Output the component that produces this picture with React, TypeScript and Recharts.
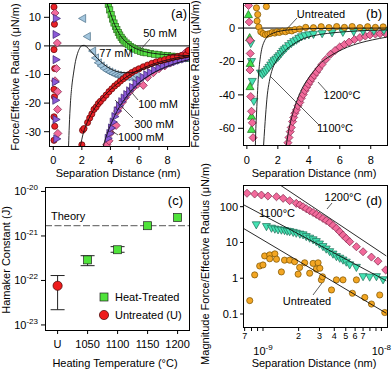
import React from 'react';
import { ScatterChart, Scatter, XAxis, YAxis, ReferenceLine, ErrorBar } from 'recharts';

const FONT = '"Liberation Sans", Arial, Helvetica, sans-serif';

// ---------- (a) force vs separation, salt series (nm, uN/m)
const a50 = [[3.85,14.5],[3.95,12.6],[4.05,10.9],[4.15,9.4],[4.25,8.0],[4.35,6.8],[4.45,5.7],[4.55,4.7],[4.65,3.8],[4.75,3.0],[4.85,2.3],[4.95,1.7],[5.1,1.0],[5.25,0.4],[5.4,-0.2],[5.55,-0.7],[5.7,-1.1],[5.9,-1.5],[6.1,-1.9],[6.3,-2.2],[6.5,-2.4],[6.8,-2.7],[7.1,-2.9],[7.4,-3.1],[7.7,-3.3],[8.0,-3.4],[8.3,-3.6],[8.6,-3.8],[8.9,-4.0],[9.2,-4.2],[9.45,-4.4]];
const a50Fit = [[3.75,15],[3.9,12.8],[4.1,10],[4.3,7.4],[4.5,5.3],[4.7,3.6],[4.9,2.3],[5.2,0.9],[5.5,-0.2],[5.9,-1.2],[6.4,-2.0],[7.0,-2.6],[7.8,-3.0],[8.6,-3.2],[9.5,-3.4]];
const a77 = [[2.05,9.6],[2.38,3.3],[2.75,-1.8],[2.95,-4.2],[3.15,-5.9],[3.35,-7.0],[3.55,-7.9],[3.75,-8.6],[3.95,-9.1],[4.15,-9.6],[4.35,-10.0],[4.55,-10.3],[4.75,-10.5],[4.95,-10.7],[5.15,-10.8],[5.35,-10.8],[5.55,-10.7],[5.8,-10.3],[9.2,-3.4],[9.45,-4.6]];
const a77Fit = [[1.07,-35],[1.12,-28],[1.2,-20],[1.3,-14],[1.42,-9.5],[1.55,-5.5],[1.7,-2.6],[1.85,-0.8],[2.0,0.1],[2.15,0.2],[2.35,-0.4],[2.6,-1.7],[2.9,-3.4],[3.3,-5.4],[3.8,-7.4],[4.3,-8.7],[4.8,-9.3],[5.3,-9.4],[5.8,-9.0],[6.4,-8.0],[7.0,-6.9],[7.8,-5.7],[8.6,-4.7],[9.5,-3.9]];
const a100 = [[2.0,-34.6],[2.05,-29.5],[2.15,-28.9],[2.4,-26.8],[2.55,-25.2],[2.7,-23.8],[2.85,-22.2],[3.0,-21.4],[3.15,-20.2],[3.3,-19.4],[3.5,-18.3],[3.7,-17.2],[3.9,-16.0],[4.1,-15.0],[4.3,-14.0],[4.5,-13.2],[4.7,-12.3],[4.9,-11.5],[5.1,-10.7],[5.3,-10.0],[5.5,-9.3],[5.75,-8.6],[6.0,-8.0],[6.3,-7.3],[6.6,-6.7],[6.9,-6.1],[7.2,-5.6],[7.5,-5.2],[7.8,-4.8],[8.1,-4.4],[8.4,-4.0],[8.7,-3.7],[9.0,-3.4],[9.3,-3.1],[9.45,-1.6]];
const a100Fit = [[1.9,-35],[2.1,-30.5],[2.4,-26.5],[2.8,-22.6],[3.2,-19.6],[3.7,-16.8],[4.2,-14.4],[4.8,-12.0],[5.4,-10.0],[6.0,-8.4],[6.8,-6.7],[7.6,-5.4],[8.5,-4.3],[9.5,-3.4]];
const a300 = [[3.85,-32.3],[3.97,-30.6],[4.08,-28.7],[4.2,-26.6],[4.32,-24.7],[4.48,-22.7],[4.64,-20.9],[4.8,-19.5],[4.97,-18.2],[5.15,-17.0],[5.35,-15.7],[5.55,-14.5],[5.8,-13.2],[6.05,-12.0],[6.3,-11.0],[6.55,-10.1],[6.8,-9.3],[7.1,-8.4],[7.4,-7.7],[7.7,-7.1],[8.0,-6.5],[8.3,-6.0],[8.6,-5.5],[8.9,-5.0],[9.2,-4.6],[9.45,-4.2]];
const a1000 = [[3.75,-34.5],[3.9,-33.2],[4.02,-30.4],[4.12,-28.4],[4.4,-27.8],[4.5,-22.8],[4.62,-21.4],[4.85,-19.6],[5.05,-18.0],[5.3,-16.3],[5.6,-14.6],[5.9,-13.4],[6.3,-13.8],[6.6,-11.0],[7.0,-9.4],[7.4,-8.0],[7.8,-7.0],[8.2,-6.0],[8.6,-4.8],[8.9,-3.6],[9.2,-2.6],[9.45,-1.9]];
const a300Fit = [[3.5,-35],[3.75,-31],[4.0,-27.8],[4.3,-24.4],[4.6,-21.6],[5.0,-18.6],[5.5,-15.4],[6.0,-12.9],[6.6,-10.7],[7.2,-8.9],[7.8,-7.5],[8.5,-6.2],[9.5,-4.8]];
// contact region points (near zero separation)
const aColRed = [[0.05,13.6],[0.08,7.6],[0.05,-1.3],[0.1,-7.9],[0.05,-15.2],[0.08,-17.8],[0.05,-24.8],[0.1,-28.1],[0.05,-33.0]];
const aColPink = [[0.12,11.5],[0.28,1.0],[0.22,-7.9],[0.12,-12.2],[0.3,-16.0],[0.3,-22.2],[0.32,-30.6]];
const aColPurple = [[0.22,9.6],[0.2,4.0],[0.2,-4.8],[0.15,-12.6],[0.18,-19.0],[0.2,-25.7],[0.25,-32.5]];

// ---------- (b) heat treatment series
const bUntreated = [[0.62,12.1],[1.26,12.9],[0.7,8.1],[0.66,4.2],[0.77,0.6],[0.9,-2.2],[1.05,-3.3],[1.2,-4.0],[1.35,-3.6],[1.5,-3.3],[1.65,-2.6],[1.8,-3.0],[1.95,-2.2],[2.1,-2.6],[2.3,-1.9],[2.5,-2.2],[2.7,-1.4],[2.9,-1.7],[3.1,-0.9],[3.4,-0.6],[3.8,0.4],[4.3,0.2],[4.8,0.8],[5.3,0.3],[5.8,0.9],[6.3,0.4],[6.8,0.9],[7.3,0.3],[7.8,0.8],[8.3,0.4],[8.8,0.7]];
const bUntreatedFit = [[0.55,-70],[0.58,-60],[0.62,-52],[0.67,-42],[0.72,-33],[0.78,-25],[0.85,-19],[0.95,-13],[1.1,-8.5],[1.3,-5.4],[1.6,-3.4],[2.0,-2.1],[2.6,-1.2],[3.4,-0.6],[4.5,-0.3],[6,-0.1],[9.05,0]];
const b1100 = [[0.88,-27],[1.0,-28],[1.12,-27],[1.22,-26],[1.33,-24.8],[1.43,-23.6],[1.54,-22.2],[1.65,-20.8],[1.76,-19.6],[1.88,-18.7],[2.0,-17.6],[2.1,-16.6],[2.21,-15.3],[2.32,-14.0],[2.43,-13.0],[2.54,-12.0],[2.7,-10.6],[2.87,-9.3],[3.03,-8.2],[3.2,-7.3],[3.36,-6.2],[3.53,-5.3],[3.75,-4.6],[4.0,-4.1],[4.3,-3.8],[4.86,-3.4],[5.5,-2.9],[6.2,-2.6],[6.9,-2.3],[7.5,-2.0],[8.2,-1.8],[8.85,-1.5]];
const b1100Fit = [[1.08,-70],[1.15,-60],[1.21,-52],[1.32,-40],[1.45,-32],[1.6,-26],[1.88,-20],[2.3,-15],[2.87,-10.5],[3.5,-7],[4.4,-4.4],[5.5,-2.9],[7,-1.8],[9.05,-1.1]];
const b1200 = [[2.65,-68.6],[2.72,-65.5],[2.8,-62],[2.87,-59.5],[2.95,-56],[3.02,-53.5],[3.1,-51],[3.2,-49],[3.3,-46.5],[3.42,-44.5],[3.52,-42],[3.64,-39.8],[3.75,-37.5],[3.86,-35.6],[3.98,-33.6],[4.1,-31.8],[4.22,-30],[4.35,-28.3],[4.5,-26.4],[4.65,-24.4],[4.85,-21.8],[5.1,-18.8],[5.4,-15.7],[5.7,-13.4],[6.0,-11.3],[6.3,-9.8],[6.6,-8.4],[6.95,-6.9],[7.3,-5.7],[7.65,-4.8],[7.95,-4.1],[8.3,-3.6],[8.6,-3.4],[8.95,-3.2]];
const b1200Fit = [[2.55,-70],[2.65,-64],[2.8,-57],[3.0,-50],[3.25,-43],[3.55,-36.5],[3.9,-31],[4.3,-26],[4.7,-21.5],[5.2,-17.8],[5.8,-14.5],[6.5,-11.4],[7.3,-8.9],[8.1,-7.1],[9.05,-5.4]];
const bColPink = [[0.11,13.5],[0.15,3.6],[0.2,-7.3],[0.22,-15.2],[0.2,-25.1],[0.25,-41],[0.3,-49.8],[0.35,-56.7],[0.4,-65.6]];
const bColGreen = [[0.1,8.1],[0.18,-5.7],[0.22,-21.1],[0.2,-35],[0.3,-52.7],[0.3,-60.6]];
const bColTeal = [[0.25,-9.3],[0.3,-20.1],[0.35,-32],[0.45,-43.9]];

// ---------- (c) Hamaker constants (J)
const tempSlots = [1000, 1050, 1100, 1150, 1200];
const tempLabels = ['U', '1050', '1100', '1150', '1200'];
const heatTemps = [1050, 1100, 1150, 1200];
const heatA = [2.9e-22, 4.9e-22, 1.7e-21, 2.6e-21];
const heatLo = [2.15e-22, 4.3e-22, 1.7e-21, 2.6e-21];
const heatHi = [3.6e-22, 5.75e-22, 1.7e-21, 2.6e-21];
const untreatedSlot = 1000;
const untreatedA = 7.6e-23;
const untreatedLo = 2.2e-23;
const untreatedHi = 1.29e-22;
const theoryA = 1.7e-21;

// ---------- (d) log-log magnitudes (m, uN/m)
const d1200 = [[7.33e-10,237],[8.5e-10,226],[9.7e-10,212],[1.1e-9,199],[1.3e-9,190],[1.48e-9,171],[1.68e-9,147],[1.91e-9,124],[2.05e-9,112],[2.18e-9,100],[2.32e-9,88],[2.48e-9,77],[2.65e-9,69],[2.82e-9,61],[3.0e-9,54],[3.21e-9,47],[3.42e-9,41],[3.66e-9,36],[3.9e-9,30],[4.17e-9,25],[4.45e-9,20],[4.74e-9,16],[5.05e-9,13],[5.4e-9,10.5],[6.15e-9,7.6],[7.0e-9,5.5],[8.24e-9,3.9],[9.35e-9,3.0],[1.087e-8,1.7]];
const d1200Fit = [[1.4e-9,400],[1.1e-8,4.2]];
const d1100 = [[8.78e-10,31],[1.07e-9,27.6],[1.18e-9,24.9],[1.26e-9,23.5],[1.34e-9,22.4],[1.43e-9,22],[1.52e-9,21.4],[1.6e-9,20.5],[1.68e-9,20],[1.8e-9,19],[1.91e-9,18],[2.05e-9,17],[2.18e-9,16.2],[2.32e-9,14.5],[2.48e-9,13.1],[2.65e-9,11.8],[2.82e-9,10.5],[3.0e-9,9],[3.21e-9,7.6],[3.42e-9,6.5],[3.66e-9,5.5],[3.9e-9,4.7],[4.17e-9,4.0],[4.45e-9,3.6],[4.74e-9,3.2],[5.05e-9,2.8],[5.4e-9,2.35],[6.15e-9,2.0],[7.0e-9,1.1],[7.96e-9,1.07],[9.08e-9,1.1],[1.033e-8,0.9]];
const d1100Fit = [[6.8e-10,115],[1.1e-8,0.85]];
const dUntreated = [[7.73e-10,0.237],[8.51e-10,1.24],[9.38e-10,2.2],[1.0e-9,2.35],[1.033e-9,4.2],[1.14e-9,4.5],[1.14e-9,3.5],[1.26e-9,4.8],[1.3e-9,3.4],[1.43e-9,1.5],[1.52e-9,3.2],[1.68e-9,3.2],[1.85e-9,2.9],[1.98e-9,1.3],[2.04e-9,2.0],[2.25e-9,2.7],[2.48e-9,1.38],[2.65e-9,2.6],[2.82e-9,1.8],[2.92e-9,2.7],[3.02e-9,1.9],[3.11e-9,0.9],[3.18e-9,1.1],[3.79e-9,0.47],[4.17e-9,0.9],[4.74e-9,0.9],[5.69e-9,0.38],[6.15e-9,0.9],[7.24e-9,0.29],[8.24e-9,0.19],[9.68e-9,0.34],[1.067e-8,0.11]];
const dUntreatedFit = [[6.8e-10,25],[1.1e-8,0.105]];
const dTicksX = [7e-10, 8e-10, 9e-10, 1e-9, 2e-9, 3e-9, 4e-9, 5e-9, 6e-9, 7e-9, 8e-9, 9e-9, 1e-8];

// ---------- colours
const C = {
  green: ['#55e045', '#2d6e1e'],
  red: ['#ea2228', '#5e0000'],
  blue: ['#a3c6de', '#4b6e86'],
  purple: ['#8c5ad8', '#3a2370'],
  pink: ['#f26a9b', '#7d2447'],
  orange: ['#f3a623', '#7a5200'],
  teal: ['#45e3b4', '#1d6b55'],
  lime: ['#40e04a', '#1a6b1a'],
};

const pts = (arr: number[][]) => arr.map(([x, y]) => ({ x, y }));

function marker(kind: string, col: string[], r = 3.1) {
  const [fill, stroke] = col;
  return (p: any) => {
    const { cx, cy } = p;
    if (cx == null || cy == null) return <g />;
    const sp = { fill, stroke, strokeWidth: 0.7 };
    if (kind === 'circle') return <circle cx={cx} cy={cy} r={r} {...sp} />;
    if (kind === 'square') return <rect x={cx - r} y={cy - r} width={2 * r} height={2 * r} {...sp} />;
    let q: number[][] = [];
    const k = r * 1.3;
    if (kind === 'diamond') q = [[0, -k], [k, 0], [0, k], [-k, 0]];
    if (kind === 'left') q = [[-k, 0], [r, -k], [r, k]];
    if (kind === 'right') q = [[k, 0], [-r, -k], [-r, k]];
    if (kind === 'down') q = [[-k, -r], [k, -r], [0, k]];
    if (kind === 'up') q = [[-k, r], [k, r], [0, -k]];
    return <polygon points={q.map(([dx, dy]) => `${cx + dx},${cy + dy}`).join(' ')} {...sp} />;
  };
}
const noDot = () => <g />;

const tickFont = { fill: '#000', fontSize: 11 };
const tl = { stroke: '#000' };

function fit(data: number[][], key: string) {
  return (
    <Scatter key={key} data={pts(data)} line={{ stroke: '#111', strokeWidth: 0.9 }} lineType="joint"
      lineJointType="monotoneX" shape={noDot} isAnimationActive={false} />
  );
}
function dots(data: number[][], kind: string, col: string[], key: string, r?: number) {
  return <Scatter key={key} data={pts(data)} shape={marker(kind, col, r)} isAnimationActive={false} />;
}

const DecadeTickY = (props: any) => {
  const { x, y, payload } = props;
  const e = Math.round(Math.log10(payload.value));
  return (
    <text x={x} y={y + 4} textAnchor="end" fill="#000" fontSize={11}>
      <tspan>10</tspan>
      <tspan dy={-5} fontSize={8}>{e}</tspan>
    </text>
  );
};

const LogTickX = (props: any) => {
  const { x, y, payload } = props;
  const v = payload.value;
  const lg = Math.log10(v);
  const dec = Math.floor(lg + 1e-9);
  const d = Math.round(v / Math.pow(10, dec));
  if (d === 1) {
    return (
      <text x={x} y={y + 22} textAnchor="middle" fill="#000" fontSize={11}>
        <tspan>10</tspan>
        <tspan dy={-5} fontSize={8}>{dec}</tspan>
      </text>
    );
  }
  if (d === 8 || d === 9) return <g />;
  return <text x={x} y={y + 6} textAnchor="middle" fill="#000" fontSize={9}>{d}</text>;
};

function PanelA() {
  return (
    <ScatterChart width={195} height={180} margin={{ top: 3, right: 6, bottom: 0, left: 0 }}>
      <XAxis type="number" dataKey="x" domain={[-0.3, 9.5]} ticks={[0, 2, 4, 6, 8]} interval={0} allowDataOverflow
        height={34} tickSize={4} tickMargin={6} axisLine={false} tickLine={tl} tick={tickFont} />
      <YAxis type="number" dataKey="y" domain={[-35, 15]} ticks={[-30, -20, -10, 0, 10]} interval={0} allowDataOverflow
        width={49} tickSize={5} tickMargin={3} axisLine={false} tickLine={tl} tick={tickFont} />
      <ReferenceLine y={0} stroke="#000" />
      {dots(a50, 'square', C.green, 'g')}
      {dots(a77, 'left', C.blue, 'b')}
      {dots(a1000, 'diamond', C.pink, 'p')}
      {dots(a300, 'right', C.purple, 'u')}
      {dots(a100, 'circle', C.red, 'r')}
      {dots(aColRed, 'circle', C.red, 'cr')}
      {dots(aColPink, 'diamond', C.pink, 'cp')}
      {dots(aColPurple, 'right', C.purple, 'cu')}
      {fit(a50Fit, 'f1')}
      {fit(a77Fit, 'f2')}
      {fit(a100Fit, 'f3')}
      {fit(a300Fit, 'f4')}
    </ScatterChart>
  );
}

function PanelB() {
  return (
    <ScatterChart width={197} height={180} margin={{ top: 3, right: 5, bottom: 0, left: 0 }}>
      <XAxis type="number" dataKey="x" domain={[-0.25, 9.05]} ticks={[0, 2, 4, 6, 8]} interval={0} allowDataOverflow
        height={35} tickSize={4} tickMargin={7} axisLine={false} tickLine={tl} tick={tickFont} />
      <YAxis type="number" dataKey="y" domain={[-70, 15]} ticks={[-60, -40, -20, 0]} interval={0} allowDataOverflow
        width={48} tickSize={5} tickMargin={3} axisLine={false} tickLine={tl} tick={tickFont} />
      <ReferenceLine y={0} stroke="#000" />
      {dots(b1200, 'diamond', C.pink, 'p')}
      {dots(b1100, 'down', C.teal, 't')}
      {dots(bUntreated, 'circle', C.orange, 'o')}
      {dots(bColTeal, 'down', C.teal, 'ct')}
      {dots(bColGreen, 'up', C.lime, 'cg')}
      {dots(bColPink, 'diamond', C.pink, 'cp')}
      {fit(bUntreatedFit, 'f1')}
      {fit(b1100Fit, 'f2')}
      {fit(b1200Fit, 'f3')}
    </ScatterChart>
  );
}

function PanelC() {
  const heat = heatTemps.map((t, i) => ({ x: t, y: heatA[i], err: [heatA[i] - heatLo[i], heatHi[i] - heatA[i]] }));
  const heatBars = heat.filter((d) => d.err[0] + d.err[1] > 0);
  const untreated = [{ x: untreatedSlot, y: untreatedA, err: [untreatedA - untreatedLo, untreatedHi - untreatedA] }];
  return (
    <ScatterChart width={195} height={191} margin={{ top: 7, right: 6, bottom: 0, left: 0 }}>
      <XAxis type="number" dataKey="x" domain={[979, 1219]} ticks={tempSlots} interval={0} allowDataOverflow
        tickFormatter={(v: number) => tempLabels[tempSlots.indexOf(v)]}
        height={41} tickSize={4} tickMargin={6} axisLine={false} tickLine={tl} tick={tickFont} />
      <YAxis type="number" dataKey="y" scale="log" domain={[7.7e-24, 1.26e-20]} ticks={[1e-23, 1e-22, 1e-21, 1e-20]}
        interval={0} allowDataOverflow width={45} tickSize={4} tickMargin={3} axisLine={false} tickLine={tl}
        tick={<DecadeTickY />} />
      <ReferenceLine y={theoryA} stroke="#777" strokeWidth={1.3} strokeDasharray="7 2.5" />
      <Scatter data={heatBars} shape={noDot} isAnimationActive={false}>
        <ErrorBar dataKey="err" direction="y" width={7} stroke="#222" strokeWidth={1} />
      </Scatter>
      <Scatter data={untreated} shape={noDot} isAnimationActive={false}>
        <ErrorBar dataKey="err" direction="y" width={7} stroke="#222" strokeWidth={1} />
      </Scatter>
      <Scatter data={heat} shape={marker('square', ['#4fe33a', '#222'], 4)} isAnimationActive={false} />
      <Scatter data={untreated} shape={marker('circle', ['#ee1c1c', '#400'], 4.6)} isAnimationActive={false} />
    </ScatterChart>
  );
}

function PanelD() {
  return (
    <ScatterChart width={197} height={191} margin={{ top: 5, right: 5, bottom: 0, left: 0 }}>
      <XAxis type="number" dataKey="x" scale="log" domain={[6.78e-10, 1.115e-8]} ticks={dTicksX} interval={0}
        allowDataOverflow height={44} tickSize={4} tickMargin={2} axisLine={false} tickLine={tl} tick={<LogTickX />} />
      <YAxis type="number" dataKey="y" scale="log" domain={[0.0433, 404]} ticks={[0.1, 1, 10, 100]} interval={0}
        allowDataOverflow width={48} tickSize={3} tickMargin={2} axisLine={false} tickLine={tl} tick={tickFont} />
      {dots(dUntreated, 'circle', C.orange, 'o')}
      {dots(d1100, 'down', C.teal, 't')}
      {dots(d1200, 'diamond', C.pink, 'p')}
      {fit(d1200Fit, 'f1')}
      {fit(d1100Fit, 'f2')}
      {fit(dUntreatedFit, 'f3')}
    </ScatterChart>
  );
}

// annotation text and leader lines, in page pixels
const frames = [[49, 3, 140, 143], [243, 3, 144, 142], [45, 187, 144, 143], [243, 185, 144, 142]];
const notes: [string, number, number, string, number][] = [
  ['(a)', 187, 18, 'end', 13],
  ['50 mM', 160, 37, 'middle', 11],
  ['77 mM', 116, 57, 'middle', 11],
  ['100 mM', 158, 108, 'middle', 11],
  ['300 mM', 154, 128, 'middle', 11],
  ['1000 mM', 141, 141, 'middle', 11],
  ['(b)', 382, 18, 'end', 13],
  ['Untreated', 321, 18, 'middle', 11],
  ['1200°C', 342, 99, 'middle', 11],
  ['1100°C', 335, 132, 'middle', 11],
  ['(c)', 183, 205, 'end', 13],
  ['Theory', 51, 220, 'start', 11],
  ['(d)', 382, 205, 'end', 13],
  ['1200°C', 343, 201, 'middle', 11],
  ['1100°C', 277, 217, 'middle', 11],
  ['Untreated', 307, 305, 'middle', 11],
  ['Heat-Treated', 115, 301, 'start', 11],
  ['Untreated (U)', 115, 319, 'start', 11],
  ['Separation Distance (nm)', 118, 177, 'middle', 11],
  ['Separation Distance (nm)', 314, 177, 'middle', 11],
  ['Heating Temperature (°C)', 115, 367, 'middle', 11],
  ['Separation Distance (nm)', 314, 367, 'middle', 11],
];
const vTitles: [string, number, number][] = [
  ['Force/Effective Radius (μN/m)', 15, 77],
  ['Force/Effective Radius (μN/m)', 195, 74],
  ['Hamaker Constant (J)', 6, 260],
  ['Magnitude Force/Effective Radius (μN/m)', 205, 264],
];
const leaders = [[150, 39, 141, 49], [138, 100, 128, 88], [133, 118, 115, 100], [118, 135, 112, 131], [297, 18, 285, 31],
  [327, 92, 318, 82], [319, 125, 270, 76], [332, 203, 327, 209], [313, 295, 322, 283]];

function Overlay() {
  return (
    <svg width={392} height={371} style={{ position: 'absolute', left: 0, top: 0, pointerEvents: 'none' }}>
      {frames.map(([x, y, w, h], i) => (
        <rect key={i} x={x + 0.5} y={y + 0.5} width={w} height={h} fill="none" stroke="#000" strokeWidth={1} />
      ))}
      {leaders.map(([x1, y1, x2, y2], i) => (
        <line key={i} x1={x1} y1={y1} x2={x2} y2={y2} stroke="#333" strokeWidth={0.8} />
      ))}
      {notes.map(([t, x, y, a, s], i) => (
        <text key={i} x={x} y={y} textAnchor={a as any} fontSize={s} fill="#000">{t}</text>
      ))}
      {vTitles.map(([t, x, y], i) => (
        <text key={i} transform={`translate(${x},${y}) rotate(-90)`} textAnchor="middle" dominantBaseline="central"
          fontSize={11} fill="#000">{t}</text>
      ))}
      {marker('square', ['#4fe33a', '#222'], 4)({ cx: 104, cy: 297 })}
      {marker('circle', ['#ee1c1c', '#400'], 4.6)({ cx: 104, cy: 315 })}
    </svg>
  );
}

export default function App() {
  const box = (l: number, t: number): React.CSSProperties => ({ position: 'absolute', left: l, top: t });
  return (
    <div style={{ position: 'absolute', left: 0, top: 0, width: 392, height: 371, background: '#fff', fontFamily: FONT, overflow: 'hidden' }}>
      <div style={box(0, 0)}><PanelA /></div>
      <div style={box(195, 0)}><PanelB /></div>
      <div style={box(0, 180)}><PanelC /></div>
      <div style={box(195, 180)}><PanelD /></div>
      <Overlay />
    </div>
  );
}
